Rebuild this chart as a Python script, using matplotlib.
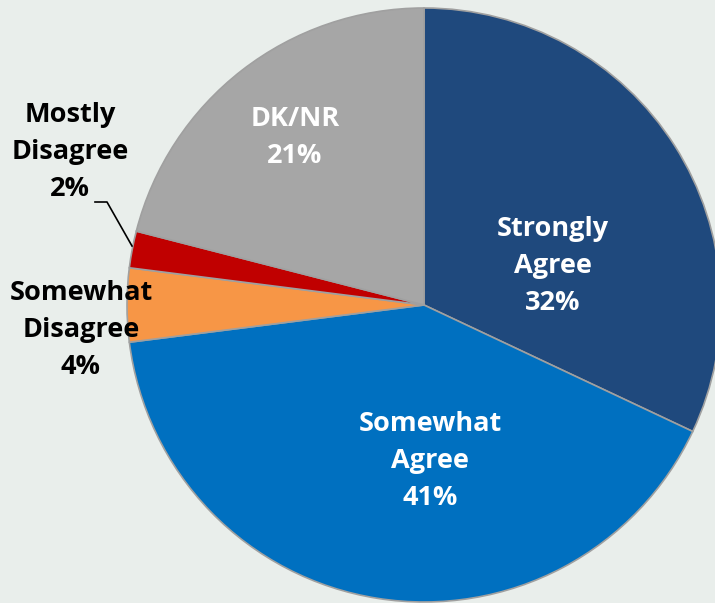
import matplotlib.pyplot as plt

labels = ['Strongly\nAgree', 'Somewhat\nAgree', 'Somewhat\nDisagree', 'Mostly\nDisagree', 'DK/NR']
values = [32, 41, 4, 2, 21]
colors = ['#1F497D', '#0070C0', '#F79646', '#C00000', '#A6A6A6']

# pixel layout of the reference
W, H = 715, 603
cx, cy, R = 424, 305, 297


def pos(px, py):
    return (px - cx) / R, (cy - py) / R


fig = plt.figure(figsize=(W / 100, H / 100), dpi=100)
fig.patch.set_facecolor('#E9EEEB')
ax = fig.add_axes([0, 0, 1, 1])
ax.set_facecolor('#E9EEEB')

ax.pie(values, colors=colors, startangle=90, counterclock=False, radius=1,
       wedgeprops=dict(edgecolor='#A0A0A0', linewidth=1.2))

ax.set_xlim(-cx / R, (W - cx) / R)
ax.set_ylim(-(H - cy) / R, cy / R)
ax.set_aspect('equal')
ax.axis('off')

font = dict(family='Open Sans', fontweight='bold', fontsize=19.5,
            ha='center', va='center', linespacing=1.55)

# label positions (pixel centres)
spots = [(553, 266, 'white'), (430, 461, 'white'), (81, 330, 'black'),
         (70, 152, 'black'), (295, 138, 'white')]
for lab, v, (px, py, c) in zip(labels, values, spots):
    x, y = pos(px, py)
    ax.text(x, y, f'{lab}\n{v}%', color=c, **font)

# leader line for the small slice
pts = [pos(95, 202), pos(107, 202), pos(132, 246)]
ax.plot([p[0] for p in pts], [p[1] for p in pts], color='black', lw=1.2)

fig.savefig('out.png', dpi=100, facecolor=fig.get_facecolor())
